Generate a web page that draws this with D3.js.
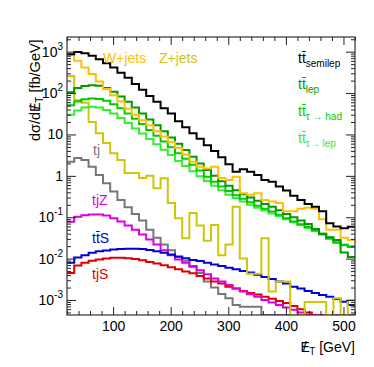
<!DOCTYPE html>
<html>
<head>
<meta charset="utf-8">
<script src="https://cdn.jsdelivr.net/npm/d3@7"></script>
<style>
  body { margin: 0; background: #fff; }
  svg text { font-family: "Liberation Sans", Arial, Helvetica, sans-serif; }
</style>
</head>
<body>
<div id="chart"></div>
<script>

// binning: 40 bins of 12.5 GeV from 20 to 520
var binEdges = d3.range(20, 520 + 1e-9, 12.5);
var xTicks = [100, 200, 300, 400, 500];
var yTicks = [1e-3, 1e-2, 1e-1, 1, 10, 100, 1000];
var yTickLabels = [["10", "-3"], ["10", "-2"], ["10", "-1"], ["1", ""], ["10", ""], ["10", "2"], ["10", "3"]];

// dsigma/dMET [fb/GeV], one value per bin (0 = empty bin)
var ttSemilep = [871, 977, 912, 794, 661, 525, 417, 309, 234, 166, 120, 85, 62, 43, 32, 21, 15, 10.7, 7.9, 5.5,
  4.0, 2.8, 1.9, 1.26, 1.45, 1.26, 1.05, 0.79, 0.72, 0.55, 0.44, 0.33, 0.26, 0.21, 0.18, 0.14, 0.072, 0.060, 0.054, 0.059];
var wJets = [832, 603, 417, 288, 191, 126, 89, 63, 42, 30, 22, 16.6, 12, 8.9, 6.6, 4.8, 3.3, 2.2, 1.66, 1.51,
  1.66, 0.89, 0.79, 0.95, 0.38, 0.35, 0.38, 0.26, 0.24, 0.22, 0.14, 0.14, 0.16, 0.17, 0.16, 0.089, 0.05, 0.05, 0.032, 0.028];
var zJets = [257, 68, 58, 20, 10.7, 6.2, 3.5, 2.4, 1.17, 1.17, 0.89, 1.0, 0.50, 0.87, 0.22, 0.095, 0.031, 0.126, 0.063, 0.027,
  0.065, 0.012, 0.022, 0.18, 0.010, 0.0043, 0.0043, 0.031, 0.0016, 0.0028, 0.0028, 0, 0, 0.00089, 0.00089, 0.00089, 0, 0.0011, 0, 0.001];
var ttLep = [105, 132, 148, 155, 151, 132, 107, 83, 62, 45, 32, 23, 16.6, 12, 8.5, 6.0, 4.2, 2.9, 2.0, 1.38,
  1.0, 0.74, 0.58, 0.45, 0.36, 0.30, 0.25, 0.21, 0.18, 0.148, 0.12, 0.10, 0.083, 0.069, 0.052, 0.040, 0.033, 0.028, 0.014, 0.011];
var ttTauHad = [51, 63, 71, 74, 72, 65, 54, 43, 32, 24, 17.8, 12.9, 9.3, 6.8, 4.9, 3.5, 2.6, 1.86, 1.35, 0.95,
  0.72, 0.55, 0.43, 0.34, 0.28, 0.23, 0.19, 0.16, 0.138, 0.115, 0.095, 0.079, 0.068, 0.058, 0.048, 0.038, 0.030, 0.025, 0.021, 0.019];
var ttTauLep = [30, 38, 45, 47, 45, 39, 32, 25, 19, 14, 10.5, 7.8, 5.8, 4.3, 3.2, 2.3, 1.74, 1.29, 0.98, 0.74,
  0.58, 0.45, 0.35, 0.29, 0.24, 0.20, 0.17, 0.145, 0.123, 0.105, 0.089, 0.076, 0.065, 0.055, 0.047, 0.040, 0.032, 0.024, 0.022, 0.020];
var tj = [2.2, 2.7, 2.4, 1.66, 1.05, 0.66, 0.42, 0.26, 0.174, 0.12, 0.083, 0.050, 0.032, 0.022, 0.016, 0.011, 0.0089, 0.0063, 0.0045, 0.0028,
  0.0020, 0.0014, 0.0011, 0.00076, 0.00069, 0.00069, 0.00069, 0, 0, 0, 0, 0, 0, 0, 0, 0, 0, 0, 0, 0];
var tjZ = [0.078, 0.102, 0.112, 0.117, 0.117, 0.110, 0.095, 0.079, 0.063, 0.050, 0.038, 0.029, 0.022, 0.016, 0.012, 0.0095, 0.0079, 0.0066, 0.0052, 0.0042,
  0.0033, 0.0028, 0.0023, 0.0019, 0.0016, 0.00138, 0.0012, 0.0010, 0.00087, 0.00076, 0.00066, 0.00058, 0.0005, 0, 0, 0, 0, 0, 0, 0];
var ttS = [0.0079, 0.0107, 0.012, 0.0138, 0.0151, 0.0158, 0.0166, 0.0170, 0.0174, 0.0174, 0.0170, 0.0162, 0.0151, 0.0138, 0.0126, 0.0112, 0.0102, 0.0093, 0.0087, 0.0079,
  0.0072, 0.0066, 0.0060, 0.0055, 0.0050, 0.0046, 0.0041, 0.0036, 0.0032, 0.0028, 0.0025, 0.0021, 0.0019, 0.00166, 0.00148, 0.00132, 0.0012, 0.00105, 0.00091, 0.00076];
var tjS = [0.0045, 0.0068, 0.0079, 0.0089, 0.0095, 0.0100, 0.0105, 0.0105, 0.0102, 0.0098, 0.0091, 0.0083, 0.0076, 0.0069, 0.0062, 0.0055, 0.0049, 0.0044, 0.0038, 0.0033,
  0.0028, 0.0025, 0.0021, 0.0019, 0.00166, 0.00148, 0.00135, 0.0012, 0.00107, 0.00095, 0.00085, 0.00072, 0.0006, 0.0005, 0, 0, 0, 0, 0, 0];

var width = 374, height = 367;
var padL = 67, padR = 355, padT = 37, padB = 315;

var svg = d3.select('#chart').append('svg')
  .attr('width', width).attr('height', height);

var x = d3.scaleLinear().domain([20, 520]).range([padL, padR]);
var y = d3.scaleLog().domain([4.34e-4, 2265]).range([padB, padT]);

var series = [
  { values: tj, color: '#777777' },
  { values: tjS, color: '#dd0000' },
  { values: tjZ, color: '#dd00dd' },
  { values: ttS, color: '#0000dd' },
  { values: zJets, color: '#cfc60a' },
  { values: ttTauLep, color: '#33ee33' },
  { values: ttTauHad, color: '#00cc00' },
  { values: ttLep, color: '#009900' },
  { values: wJets, color: '#ffc000' },
  { values: ttSemilep, color: '#000000' }
];

svg.append('clipPath').attr('id', 'plotclip')
  .append('rect').attr('x', padL).attr('y', padT)
  .attr('width', padR - padL).attr('height', padB - padT);

function yPos(v) {
  return v > 0 ? Math.min(y(v), padB) : padB;
}

var line = d3.line().x(function(d) { return d[0]; }).y(function(d) { return d[1]; });

function stepPoints(values) {
  var pts = [];
  values.forEach(function(v, i) {
    pts.push([x(binEdges[i]), yPos(v)]);
    pts.push([x(binEdges[i + 1]), yPos(v)]);
  });
  return pts;
}

svg.append('g').attr('clip-path', 'url(#plotclip)')
  .selectAll('path')
  .data(series)
  .enter()
  .append('path')
  .attr('d', function(d) { return line(stepPoints(d.values)); })
  .attr('fill', 'none')
  .attr('stroke', function(d) { return d.color; })
  .attr('stroke-width', 2)
  .attr('stroke-linejoin', 'miter');

// axes: ticks point inwards on all four sides
var xMinor = d3.range(20, 521, 20).filter(function(v) { return v % 100 !== 0; });
var yMinor = [];
[-4, -3, -2, -1, 0, 1, 2, 3].forEach(function(e) {
  for (var k = 2; k <= 9; k++) {
    var v = k * Math.pow(10, e);
    if (v > y.domain()[0] && v < y.domain()[1]) yMinor.push(v);
  }
});

function cleanAxis(g) {
  g.select('.domain').remove();
  g.selectAll('line').attr('stroke', '#222');
}

svg.append('g').attr('transform', 'translate(0,' + padB + ')')
  .call(d3.axisBottom(x).tickValues(xTicks).tickSize(-8).tickPadding(6).tickFormat(d3.format('d')))
  .call(cleanAxis)
  .selectAll('text').attr('font-size', 14).attr('fill', '#000')
  .attr('font-family', '"Liberation Sans", Arial, sans-serif');
svg.append('g').attr('transform', 'translate(0,' + padB + ')')
  .call(d3.axisBottom(x).tickValues(xMinor).tickSize(-4).tickFormat(''))
  .call(cleanAxis);
svg.append('g').attr('transform', 'translate(0,' + padT + ')')
  .call(d3.axisTop(x).tickValues(xTicks).tickSize(-8).tickFormat(''))
  .call(cleanAxis);
svg.append('g').attr('transform', 'translate(0,' + padT + ')')
  .call(d3.axisTop(x).tickValues(xMinor).tickSize(-4).tickFormat(''))
  .call(cleanAxis);

svg.append('g').attr('transform', 'translate(' + padL + ',0)')
  .call(d3.axisLeft(y).tickValues(yTicks).tickSize(-9).tickFormat(''))
  .call(cleanAxis);
svg.append('g').attr('transform', 'translate(' + padL + ',0)')
  .call(d3.axisLeft(y).tickValues(yMinor).tickSize(-4).tickFormat(''))
  .call(cleanAxis);
svg.append('g').attr('transform', 'translate(' + padR + ',0)')
  .call(d3.axisRight(y).tickValues(yTicks).tickSize(-9).tickFormat(''))
  .call(cleanAxis);
svg.append('g').attr('transform', 'translate(' + padR + ',0)')
  .call(d3.axisRight(y).tickValues(yMinor).tickSize(-4).tickFormat(''))
  .call(cleanAxis);

svg.append('rect')
  .attr('x', padL).attr('y', padT)
  .attr('width', padR - padL).attr('height', padB - padT)
  .attr('fill', 'none').attr('stroke', '#333').attr('stroke-width', 1.2);

// y tick labels with exponents
var yl = svg.append('g').selectAll('text')
  .data(yTicks)
  .enter()
  .append('text')
  .attr('x', 63)
  .attr('y', function(d) { return y(d) + 5; })
  .attr('text-anchor', 'end')
  .attr('font-size', 14)
  .attr('fill', '#000');
yl.append('tspan').text(function(d, i) { return yTickLabels[i][0]; });
yl.append('tspan')
  .attr('dy', -7)
  .attr('font-size', 10)
  .text(function(d, i) { return yTickLabels[i][1]; });

// axis titles; the missing-ET symbol is an E with a slash laid over it
function metTitle(t, before, after) {
  t.append('tspan').text(before + 'E');
  t.append('tspan').attr('dx', -7).text('/');
  t.append('tspan').attr('dx', 2.5).attr('dy', 3).attr('font-size', 10).text('T');
  t.append('tspan').attr('dy', -3).text(after);
}

var xt = svg.append('text')
  .attr('x', 355).attr('y', 352)
  .attr('text-anchor', 'end').attr('font-size', 14).attr('fill', '#000');
metTitle(xt, '', ' [GeV]');

var yt = svg.append('text')
  .attr('transform', 'translate(40,141) rotate(-90)')
  .attr('text-anchor', 'start').attr('font-size', 14.5).attr('fill', '#000');
metTitle(yt, 'd\u03c3/d', ' [fb/GeV]');

// process labels
function label(px, py, color, main, sub) {
  var t = svg.append('text').attr('x', px).attr('y', py)
    .attr('font-size', 14).attr('fill', color);
  t.append('tspan').text(main);
  if (sub) t.append('tspan').attr('dy', 4).attr('font-size', 10).text(sub);
}

label(103, 63, '#ffc000', 'W+jets');
label(159, 63, '#cfc60a', 'Z+jets');
label(298, 63, '#000000', 'tt\u0304', 'semilep');
label(298, 89, '#009900', 'tt\u0304', 'lep');
label(298, 116, '#00cc00', 'tt\u0304', '\u03c4 \u2192 had');
label(298, 143, '#33ee33', 'tt\u0304', '\u03c4\u2192 lep');
label(93, 155, '#777777', 'tj');
label(92, 205, '#dd00dd', 'tjZ');
label(92, 243, '#0000dd', 'tt\u0304S');
label(92, 279, '#dd0000', 'tjS');

</script>
</body>
</html>
